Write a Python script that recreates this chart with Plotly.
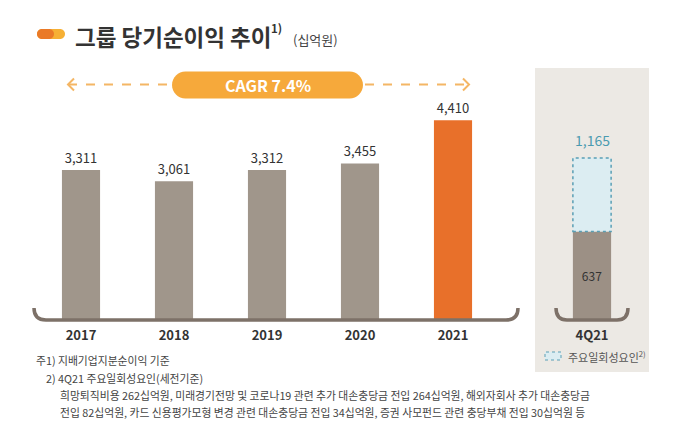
import plotly.graph_objects as go

# ---- data ----
years = ["2017", "2018", "2019", "2020", "2021"]
net_income = [3311, 3061, 3312, 3455, 4410]
cagr_label = "CAGR 7.4%"
q_label = ["4Q21"]
q_base = [637]
q_total = [1165]
title_text = "그룹 당기순이익 추이"
unit_text = "(십억원)"
legend_text = "주요일회성요인"
notes = [
    "주1) 지배기업지분순이익 기준",
    "2) 4Q21 주요일회성요인(세전기준)",
    "희망퇴직비용 262십억원, 미래경기전망 및 코로나19 관련 추가 대손충당금 전입 264십억원, 해외자회사 추가 대손충당금",
    "전입 82십억원, 카드 신용평가모형 변경 관련 대손충당금 전입 34십억원, 증권 사모펀드 관련 충당부채 전입 30십억원 등",
]

W, H = 676, 429
FONT = "Noto Sans CJK KR"


def px(x):
    return x / W


def py(y):
    return 1 - y / H


def P(x, y):
    return f"{px(x):.5f},{py(y):.5f}"


def pill(x0, y0, x1, y1):
    r = (y1 - y0) / 2
    k = 0.5523 * r
    cy = (y0 + y1) / 2
    return (f"M {P(x0+r, y0)} L {P(x1-r, y0)} "
            f"C {P(x1-r+k, y0)} {P(x1, cy-k)} {P(x1, cy)} "
            f"C {P(x1, cy+k)} {P(x1-r+k, y1)} {P(x1-r, y1)} "
            f"L {P(x0+r, y1)} "
            f"C {P(x0+r-k, y1)} {P(x0, cy+k)} {P(x0, cy)} "
            f"C {P(x0, cy-k)} {P(x0+r-k, y0)} {P(x0+r, y0)} Z")


main_colors = ["#a0968b"] * (len(years) - 1) + ["#e8702a"]

fig = go.Figure()

# main bars
fig.add_trace(go.Bar(
    x=years, y=net_income, marker=dict(color=main_colors, line=dict(width=0)),
    width=0.41, texttemplate="%{y:,}", textposition="outside",
    textfont=dict(size=13, color="#333333", family=FONT),
    cliponaxis=False, xaxis="x", yaxis="y", showlegend=False, hoverinfo="skip",
))

# 4Q21 bars
fig.add_trace(go.Bar(
    x=q_label, y=q_base, marker=dict(color="#9c9085", line=dict(width=0)),
    width=0.49, texttemplate="%{y:,}", textposition="inside", insidetextanchor="middle",
    textfont=dict(size=12, color="#333333", family=FONT),
    xaxis="x2", yaxis="y2", showlegend=False, hoverinfo="skip",
))
q_inc = [t - b for t, b in zip(q_total, q_base)]
fig.add_trace(go.Bar(
    x=q_label, y=q_inc, base=q_base, marker=dict(color="#dcedf2", line=dict(width=0)),
    width=0.49, xaxis="x2", yaxis="y2", showlegend=False, hoverinfo="skip",
))

shapes = []
# right panel background
shapes.append(dict(type="rect", xref="paper", yref="paper", x0=px(535), x1=px(649),
                   y0=py(372), y1=py(68), fillcolor="#ece9e4", line=dict(width=0), layer="below"))
# dotted outline of one-off box
shapes.append(dict(type="rect", xref="x2", yref="y2", x0=-0.245, x1=0.245,
                   y0=q_base[0], y1=q_total[0], line=dict(color="#5a9fb5", width=1.5, dash="dot"),
                   fillcolor="rgba(0,0,0,0)"))
# brackets
br_col = "#7d7168"
shapes.append(dict(type="path", xref="paper", yref="paper",
                   path=f"M {P(34,308)} Q {P(34,320)} {P(46,320)} L {P(506,320)} Q {P(518,320)} {P(518,308)}",
                   line=dict(color=br_col, width=3.5)))
shapes.append(dict(type="path", xref="paper", yref="paper",
                   path=f"M {P(556,308)} Q {P(556,320)} {P(567,320)} L {P(617,320)} Q {P(628,320)} {P(628,308)}",
                   line=dict(color=br_col, width=3.5)))
# CAGR pill and arrows
arr_col = "#f4b665"
shapes.append(dict(type="line", xref="paper", yref="paper", x0=px(68), x1=px(170), y0=py(84.5), y1=py(84.5),
                   line=dict(color=arr_col, width=2, dash="dash")))
shapes.append(dict(type="line", xref="paper", yref="paper", x0=px(365), x1=px(469), y0=py(84.5), y1=py(84.5),
                   line=dict(color=arr_col, width=2, dash="dash")))
shapes.append(dict(type="path", xref="paper", yref="paper",
                   path=f"M {P(74,78.5)} L {P(68,84.5)} L {P(74,90.5)}", line=dict(color=arr_col, width=2)))
shapes.append(dict(type="path", xref="paper", yref="paper",
                   path=f"M {P(463,78.5)} L {P(469,84.5)} L {P(463,90.5)}", line=dict(color=arr_col, width=2)))
shapes.append(dict(type="path", xref="paper", yref="paper", path=pill(172, 71.5, 363, 98.5),
                   fillcolor="#f6a93b", line=dict(width=0)))
# title icon
shapes.append(dict(type="path", xref="paper", yref="paper", path=pill(37, 29, 65, 39),
                   fillcolor="#f6b035", line=dict(width=0)))
shapes.append(dict(type="path", xref="paper", yref="paper", path=pill(37, 29, 54, 39),
                   fillcolor="#ea7a28", line=dict(width=0)))
# legend swatch
shapes.append(dict(type="rect", xref="paper", yref="paper", x0=px(545), x1=px(561), y0=py(360), y1=py(352),
                   fillcolor="#dcedf2", line=dict(color="#5a9fb5", width=1, dash="dot")))

annotations = [
    dict(text=cagr_label, x=px(267.5), y=py(85), xref="paper", yref="paper", showarrow=False,
         font=dict(size=16, color="white", family=FONT, weight=600), xanchor="center", yanchor="middle"),
    dict(text=f"<b>{title_text}</b>", x=px(73), y=py(36), xref="paper", yref="paper", showarrow=False,
         font=dict(size=22.5, color="#333333", family=FONT), xanchor="left", yanchor="middle"),
    dict(text="<b>1)</b>", x=px(269), y=py(28), xref="paper", yref="paper", showarrow=False,
         font=dict(size=11.5, color="#333333", family=FONT), xanchor="left", yanchor="middle"),
    dict(text=unit_text, x=px(291), y=py(39), xref="paper", yref="paper", showarrow=False,
         font=dict(size=13, color="#444444", family=FONT), xanchor="left", yanchor="middle"),
    dict(text=f"{q_total[0]:,}", x=q_label[0], y=q_total[0], xref="x2", yref="y2", showarrow=False,
         font=dict(size=14, color="#4b9bb0", family=FONT), xanchor="center", yanchor="bottom", yshift=6),
    dict(text=f"{legend_text}<sup>2)</sup>", x=px(566), y=py(356), xref="paper", yref="paper", showarrow=False,
         font=dict(size=11, color="#555555", family=FONT), xanchor="left", yanchor="middle"),
]
note_pos = [(34, 360), (44, 378), (58, 395), (58, 412)]
for t, (xx, yy) in zip(notes, note_pos):
    annotations.append(dict(text=t, x=px(xx), y=py(yy), xref="paper", yref="paper", showarrow=False,
                            font=dict(size=10.8, color="#444444", family=FONT), xanchor="left", yanchor="middle"))

main_scale = 0.0453
q_scale = 0.139
fig.update_layout(
    width=W, height=H, margin=dict(l=0, r=0, t=0, b=0),
    paper_bgcolor="white", plot_bgcolor="rgba(0,0,0,0)",
    barmode="overlay", font=dict(family=FONT),
    xaxis=dict(domain=[px(34.5), px(499.5)], range=[-0.5, 4.5], type="category",
               tickvals=years, ticktext=[f"<b>{y}</b>" for y in years],
               tickfont=dict(size=13, color="#333333", family=FONT), ticks="", showline=False,
               showgrid=False, zeroline=False, anchor="y", ticklabelstandoff=6),
    yaxis=dict(domain=[py(320), py(100)], range=[0, 220 / main_scale], visible=False, showgrid=False),
    xaxis2=dict(domain=[px(553), px(631)], range=[-0.5, 0.5], type="category",
                tickvals=q_label, ticktext=[f"<b>{q}</b>" for q in q_label],
                tickfont=dict(size=13, color="#333333", family=FONT), ticks="", showline=False,
                showgrid=False, zeroline=False, anchor="y2", ticklabelstandoff=6),
    yaxis2=dict(domain=[py(320), py(100)], range=[0, 220 / q_scale], visible=False, showgrid=False,
                anchor="x2"),
    shapes=shapes, annotations=annotations,
)

fig.write_html("out.html", config={"displayModeBar": False},
               post_script="document.body.style.margin='0';document.body.style.overflow='hidden';")
